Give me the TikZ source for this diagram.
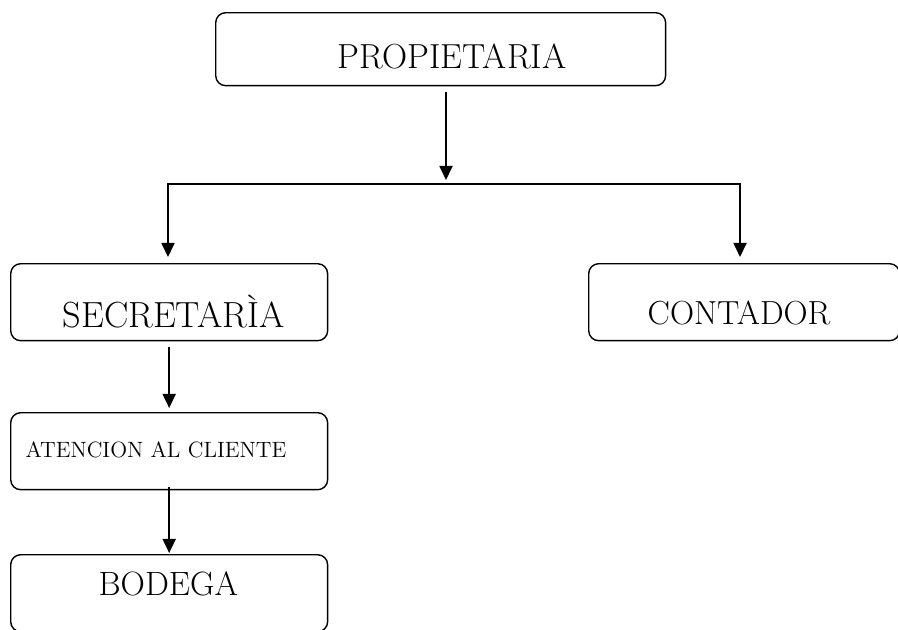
\documentclass[tikz,border=0pt]{standalone}
\usepackage{tikz}
\usetikzlibrary{arrows.meta}
\usetikzlibrary{calc}
\tikzset{
    boxnode/.style = {draw=black, rounded corners=0.2cm, line width=0.8pt, inner sep=0pt, align=left, anchor=north west},
    big_node/.style = {boxnode, font=\fontsize{19.5}{22}\selectfont},
    small_node/.style = {boxnode, font=\fontsize{12.6}{14}\selectfont},
    link/.style = {->, line width=1.1pt, line cap=rect}
}

\begin{document}
\begin{tikzpicture}
            [x=0.02cm, y=-0.02cm,
            >={Triangle[length=8pt, width=7.4pt]}]

            \useasboundingbox (0,0) rectangle (898,629);

            \node [big_node, font=\fontsize{19.8}{22}\selectfont, text width=9cm, text height=1.12cm, text depth=0.34cm]
                (prop) at (215,12) {\hspace*{2.44cm}PROPIETARIA};
            \node [big_node, font=\fontsize{20.7}{22}\selectfont, text width=6.34cm, text height=1.28cm, text depth=0.26cm]
                (secr) at (10,263) {\hspace*{1.04cm}SECRETARÌA};
            \node [big_node, font=\fontsize{19}{22}\selectfont, text width=6.22cm, text height=1.22cm, text depth=0.32cm]
                (cont) at (588,263) {\hspace*{1.18cm}CONTADOR};
            \node [small_node, text width=6.34cm, text height=0.9cm, text depth=0.64cm]
                (aten) at (10,412) {\hspace*{0.3cm}ATENCION AL CLIENTE};
            \node [big_node, font=\fontsize{19.2}{22}\selectfont, text width=6.34cm, text height=0.82cm, text depth=0.72cm]
                (bode) at (10,554) {\hspace*{1.76cm}BODEGA};

            \coordinate (fork) at (446,184);
            \coordinate (forkL) at (168,184);
            \coordinate (forkR) at (740,184);

            \draw [link] ($(prop.south -| fork)+(0,7)$) -- ($(fork)+(0,-4)$);
            \draw [link] (forkR) -- (forkL) -- ($(secr.north -| forkL)+(0,-6)$);
            \draw [link] (forkR) -- ($(cont.north -| forkR)+(0,-6)$);
            \draw [link] ($(secr.south)+(0,7)$) -- ($(aten.north)+(0,-4)$);
            \draw [link] ($(aten.south)+(0,-2)$) -- ($(bode.north)+(0,-1)$);
\end{tikzpicture}
\end{document}
